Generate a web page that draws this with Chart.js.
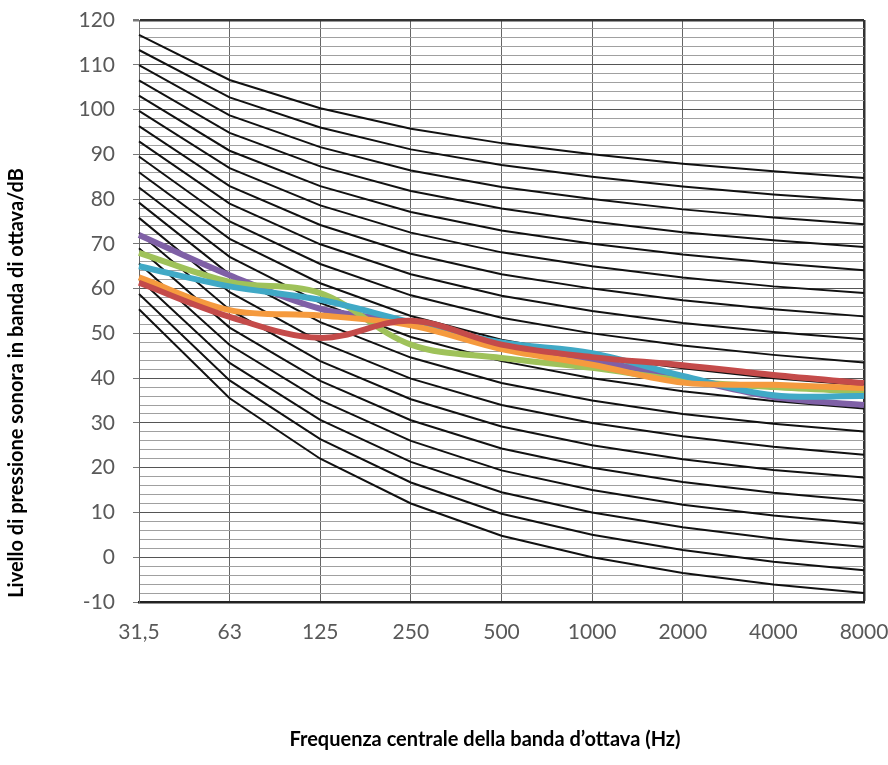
<!DOCTYPE html>
<html lang="it">
<head>
    <meta charset="UTF-8">
    <title>Curve NR</title>
    <script src="https://cdn.jsdelivr.net/npm/chart.js"></script>
    <style>
        body { margin: 0; background: #fff; }
        canvas { display: block; }
    </style>
</head>
<body>
    <canvas id="nrChart" width="888" height="765"></canvas>

    <script>
        // Octave band centre frequencies
        const frequencies = ['31,5', '63', '125', '250', '500', '1000', '2000', '4000', '8000'];

        // Noise rating curves NR0 ... NR90, step 5
        const nrCurves = [
            [55.4, 35.5, 22.0, 12.0, 4.8, 0, -3.5, -6.1, -8.0],
            [58.8, 39.5, 26.4, 16.7, 9.7, 5, 1.6, -1.0, -2.9],
            [62.2, 43.4, 30.7, 21.3, 14.5, 10, 6.7, 4.2, 2.3],
            [65.6, 47.4, 35.1, 26.0, 19.4, 15, 11.7, 9.3, 7.5],
            [69.0, 51.3, 39.4, 30.6, 24.3, 20, 16.8, 14.4, 12.6],
            [72.4, 55.3, 43.8, 35.3, 29.2, 25, 21.9, 19.5, 17.8],
            [75.8, 59.2, 48.1, 39.9, 34.0, 30, 27.0, 24.7, 22.9],
            [79.2, 63.2, 52.5, 44.6, 38.9, 35, 32.0, 29.8, 28.1],
            [82.6, 67.1, 56.8, 49.2, 43.8, 40, 37.1, 34.9, 33.2],
            [86.0, 71.1, 61.2, 53.9, 48.6, 45, 42.2, 40.0, 38.4],
            [89.5, 75.0, 65.5, 58.5, 53.5, 50, 47.3, 45.2, 43.5],
            [92.9, 79.0, 69.9, 63.2, 58.4, 55, 52.3, 50.3, 48.7],
            [96.3, 82.9, 74.2, 67.8, 63.2, 60, 57.4, 55.4, 53.8],
            [99.7, 86.9, 78.6, 72.5, 68.1, 65, 62.5, 60.5, 59.0],
            [103.1, 90.8, 82.9, 77.1, 73.0, 70, 67.6, 65.7, 64.1],
            [106.5, 94.8, 87.3, 81.8, 77.9, 75, 72.6, 70.8, 69.3],
            [109.9, 98.7, 91.6, 86.4, 82.7, 80, 77.7, 75.9, 74.4],
            [113.3, 102.7, 96.0, 91.1, 87.6, 85, 82.8, 81.0, 79.6],
            [116.7, 106.6, 100.3, 95.7, 92.5, 90, 87.9, 86.2, 84.7]
        ];

        // Measured spectra
        const redSeries = [61.3, 53.7, 49.0, 52.8, 47.5, 44.7, 42.9, 40.7, 38.9];
        const orangeSeries = [62.5, 55.2, 54.0, 51.8, 46.5, 43.0, 39.0, 38.5, 37.8];
        const cyanSeries = [65.0, 60.5, 57.5, 52.5, 48.0, 45.6, 40.5, 36.2, 36.0];
        const greenSeries = [68.0, 61.5, 59.0, 47.5, 44.5, 42.3, 39.5, 38.0, 37.0];
        const purpleSeries = [72.0, 63.0, 55.5, 52.3, 47.0, 44.0, 40.0, 35.8, 34.0];

        const yTicksMin = -10;
        const yTicksMax = 120;
        const yTitle = 'Livello di pressione sonora in banda di ottava/dB';
        const xTitle = 'Frequenza centrale della banda d\u2019ottava (Hz)';

        // axis titles sit centred on the whole picture, not on the plot
        const axisTitles = {
            id: 'axisTitles',
            afterDraw(chart) {
                const ctx = chart.ctx;
                ctx.save();
                ctx.fillStyle = '#000';
                ctx.font = 'bold 20px Lato';
                ctx.textAlign = 'center';
                ctx.textBaseline = 'middle';
                ctx.fillText(xTitle, 485, 740);
                ctx.translate(17, 383);
                ctx.rotate(-Math.PI / 2);
                ctx.fillText(yTitle, 0, 0);
                ctx.restore();
            }
        };

        const measured = [
            { data: redSeries, color: '#c44b4a' },
            { data: orangeSeries, color: '#f59a3e' },
            { data: cyanSeries, color: '#40a9c6' },
            { data: greenSeries, color: '#9fc25a' },
            { data: purpleSeries, color: '#7f60a6' }
        ];

        const datasets = [];
        measured.forEach(s => {
            datasets.push({
                data: s.data,
                borderColor: s.color,
                borderWidth: 6,
                tension: 0.35,
                pointRadius: 0
            });
        });
        nrCurves.forEach(curve => {
            datasets.push({
                data: curve,
                borderColor: '#111',
                borderWidth: 2,
                tension: 0,
                pointRadius: 0
            });
        });

        const tickFont = { family: 'Lato', size: 21 };

        new Chart(document.getElementById('nrChart'), {
            type: 'line',
            data: { labels: frequencies, datasets: datasets },
            options: {
                responsive: false,
                animation: false,
                layout: { padding: { top: 20, right: 24, bottom: 0, left: 0 } },
                plugins: {
                    legend: { display: false },
                    tooltip: { enabled: false }
                },
                scales: {
                    x: {
                        offset: false,
                        // keep the plot box fixed, tick padding would widen it
                        afterFit: s => { s.height = 163; s.paddingLeft = 20; s.paddingRight = 20; },
                        grid: {
                            color: c => c.index === frequencies.length - 1 ? '#333' : '#666',
                            lineWidth: c => c.index === frequencies.length - 1 ? 2.5 : 1,
                            drawTicks: false
                        },
                        border: { color: '#222', width: 2.5 },
                        ticks: { font: tickFont, color: '#595959', padding: 18, maxRotation: 0 }
                    },
                    y: {
                        min: yTicksMin,
                        max: yTicksMax,
                        afterFit: s => { s.width = 139; s.paddingTop = 12; s.paddingBottom = 12; },
                        grid: {
                            color: c => c.tick.value === yTicksMax ? '#333' : (c.tick.value % 10 === 0 ? '#555' : '#a0a0a0'),
                            lineWidth: c => c.tick.value === yTicksMax ? 2.5 : 1,
                            tickLength: 6,
                            tickColor: c => c.tick.value % 10 === 0 ? '#777' : 'rgba(0,0,0,0)'
                        },
                        border: { color: '#666', width: 1 },
                        ticks: {
                            stepSize: 2,
                            autoSkip: false,
                            font: tickFont,
                            color: '#595959',
                            padding: 18,
                            callback: v => v % 10 === 0 ? v : ''
                        }
                    }
                }
            },
            plugins: [axisTitles]
        });
    </script>
</body>
</html>
